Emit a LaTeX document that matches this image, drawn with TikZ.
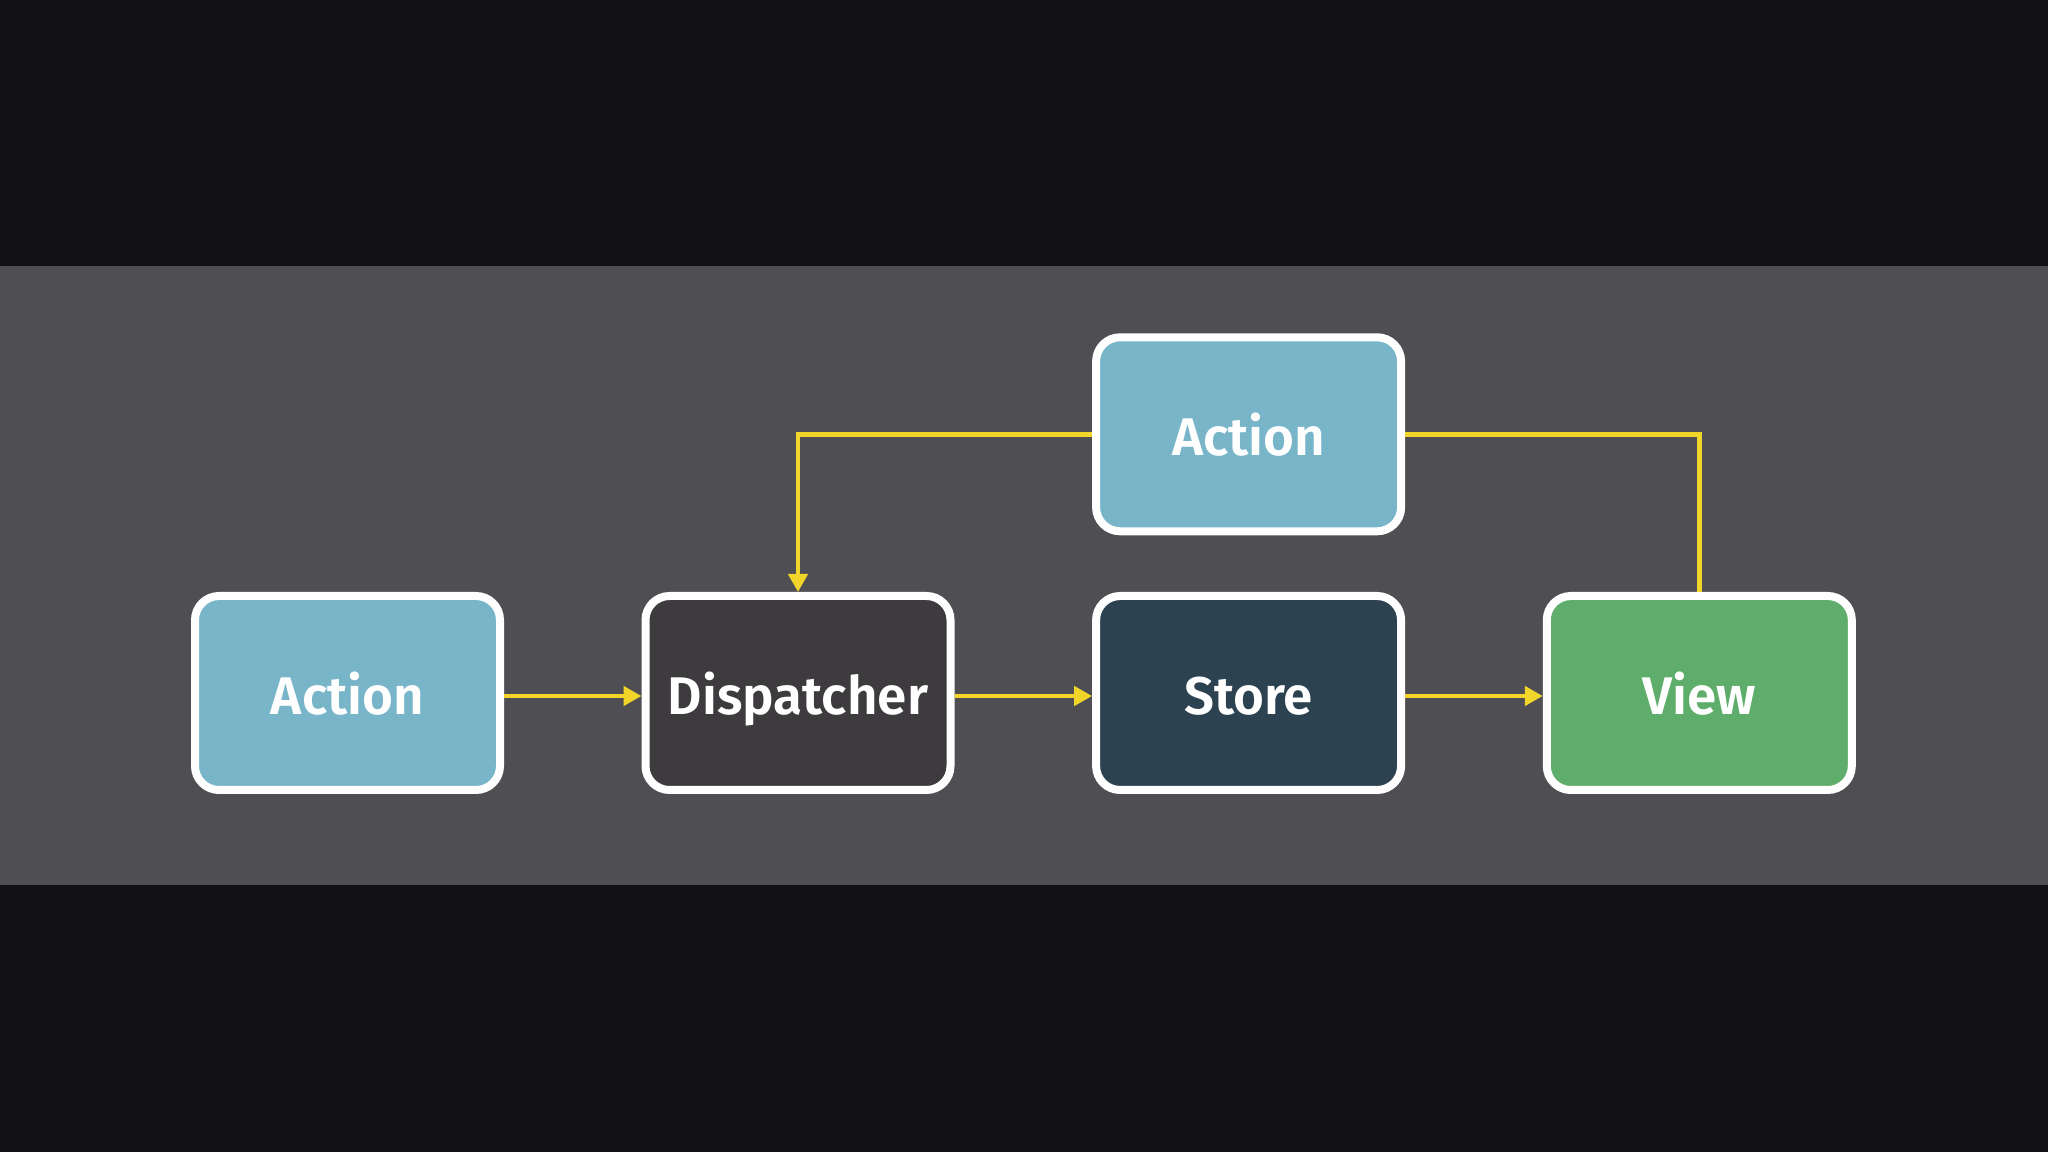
\documentclass[tikz,border=0pt]{standalone}
\usepackage{fontspec}
\setmainfont{Fira Sans}[BoldFont={Fira Sans SemiBold}]
\usetikzlibrary{arrows.meta}
\definecolor{bgblack}{HTML}{111113}
\definecolor{bggray}{HTML}{4F4E52}
\definecolor{actionc}{HTML}{78B5C9}
\definecolor{dispc}{HTML}{3E3B3F}
\definecolor{storec}{HTML}{2D4251}
\definecolor{viewc}{HTML}{5FAD6A}
\definecolor{flowy}{HTML}{F2D52A}
\begin{document}
\begin{tikzpicture}[x=1pt,y=1pt,
  box/.style={draw=white, line width=8pt, rounded corners=24pt,
    minimum width=305pt, minimum height=194pt, inner sep=0pt,
    text height=43pt, text depth=0pt,
    text=white, font=\fontsize{53}{60}\selectfont\bfseries},
  flow/.style={draw=flowy, line width=4.5pt},
  flowarrow/.style={flow, -{Triangle[length=18pt,width=19pt]}}]
\fill[bgblack] (0,0) rectangle (2048,1152);
\fill[bggray] (0,266.5) rectangle (2048,885.5);
\useasboundingbox (0,0) rectangle (2048,1152);
\node[box, fill=actionc] (a1) at (347.5,459) {Action};
\node[box, fill=dispc] (d) at (798,459) {Dispatcher};
\node[box, fill=storec] (s) at (1248.6,459) {Store};
\node[box, fill=viewc] (v) at (1699.3,459) {View};
\node[box, fill=actionc] (a2) at (1248.6,717.7) {Action};
\draw[flowarrow] ([yshift=-3pt]a1.east) -- ([yshift=-3pt]d.west);
\draw[flowarrow] ([yshift=-3pt]d.east) -- ([yshift=-3pt]s.west);
\draw[flowarrow] ([yshift=-3pt]s.east) -- ([yshift=-3pt]v.west);
\draw[flowarrow] (a2.west) -| (d.north);
\draw[flow] (a2.east) -| (v.north);
\end{tikzpicture}
\end{document}
